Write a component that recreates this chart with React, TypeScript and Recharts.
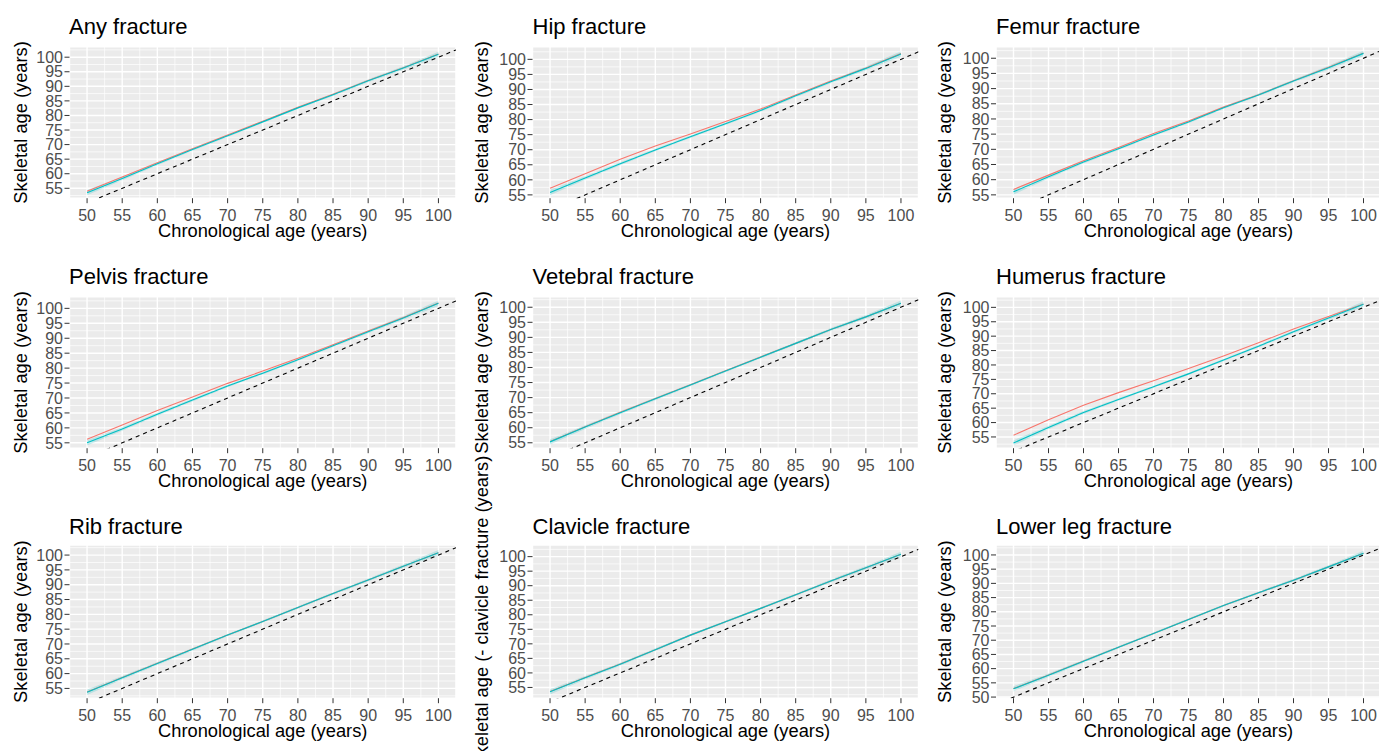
import React from 'react';
import { ComposedChart, Line, Area, XAxis, YAxis, CartesianGrid, ReferenceLine } from 'recharts';

// ---------- data ----------
const ages = [50, 55, 60, 65, 70, 75, 80, 85, 90, 95, 100];
const xTicks = [50, 55, 60, 65, 70, 75, 80, 85, 90, 95, 100];
const xMinor = [47.5, 52.5, 57.5, 62.5, 67.5, 72.5, 77.5, 82.5, 87.5, 92.5, 97.5, 102.5];
const yTicks = [55, 60, 65, 70, 75, 80, 85, 90, 95, 100];
const yTicksLowerLeg = [50, 55, 60, 65, 70, 75, 80, 85, 90, 95, 100];
const yMinor = [52.5, 57.5, 62.5, 67.5, 72.5, 77.5, 82.5, 87.5, 92.5, 97.5, 102.5];
const xDomain = [47.5, 102.5];
const identityAges = [47.5, 102.5];
const cyanBandHalf = [0.9, 0.6, 0.5, 0.45, 0.4, 0.4, 0.4, 0.45, 0.5, 0.6, 0.9];

const anyRed = [54.0, 58.9, 63.8, 68.6, 73.3, 78.0, 82.8, 87.3, 92.0, 96.4, 101.1];
const anyCyan = [53.5, 58.4, 63.4, 68.3, 73.0, 77.8, 82.6, 87.1, 91.9, 96.3, 101.0];
const anyYDomain = [51.6, 103.6];

const hipRed = [57.2, 62.0, 66.8, 71.2, 75.2, 79.4, 83.5, 88.2, 92.8, 97.1, 101.9];
const hipCyan = [55.8, 60.6, 65.3, 69.9, 74.3, 78.6, 83.0, 87.9, 92.6, 97.0, 101.8];
const hipYDomain = [53.9, 104.2];

const femurRed = [56.8, 61.5, 66.2, 70.6, 75.2, 79.3, 83.9, 88.0, 92.6, 97.0, 101.7];
const femurCyan = [56.0, 61.0, 65.8, 70.2, 74.7, 79.0, 83.7, 87.9, 92.5, 96.9, 101.6];
const femurYDomain = [53.9, 103.8];

const pelvisRed = [56.2, 61.0, 65.8, 70.3, 74.9, 79.0, 83.3, 87.8, 92.4, 96.9, 101.8];
const pelvisCyan = [55.0, 59.6, 64.6, 69.3, 74.0, 78.3, 82.8, 87.5, 92.2, 96.8, 101.7];
const pelvisYDomain = [53.2, 103.9];

const vertebralRed = [55.4, 60.3, 65.1, 69.7, 74.3, 78.9, 83.5, 88.0, 92.6, 96.8, 101.3];
const vertebralCyan = [55.3, 60.2, 65.0, 69.6, 74.2, 78.8, 83.4, 88.0, 92.6, 96.8, 101.3];
const vertebralYDomain = [53.2, 103.5];

const humerusRed = [55.6, 61.0, 66.0, 70.4, 74.5, 78.8, 83.1, 87.7, 92.5, 96.8, 101.2];
const humerusCyan = [52.9, 58.3, 63.5, 68.0, 72.4, 76.9, 81.7, 86.5, 91.5, 96.3, 101.1];
const humerusYDomain = [51.1, 103.7];

const ribRed = [53.8, 58.7, 63.5, 68.3, 73.0, 77.6, 82.3, 87.0, 91.6, 96.2, 100.8];
const ribCyan = [53.7, 58.6, 63.4, 68.2, 73.0, 77.6, 82.3, 87.0, 91.6, 96.2, 100.8];
const ribYDomain = [51.7, 103.4];

const clavicleRed = [53.6, 58.4, 63.1, 68.0, 73.0, 77.6, 82.2, 86.9, 91.6, 96.2, 100.8];
const clavicleCyan = [53.5, 58.3, 63.0, 68.0, 73.0, 77.6, 82.2, 86.9, 91.6, 96.2, 100.8];
const clavicleYDomain = [51.3, 104.0];

const lowerLegRed = [53.0, 57.8, 62.7, 67.5, 72.4, 77.3, 82.2, 86.7, 91.1, 95.8, 100.6];
const lowerLegCyan = [52.9, 57.7, 62.6, 67.5, 72.4, 77.3, 82.2, 86.7, 91.1, 95.8, 100.6];
const lowerLegYDomain = [49.6, 103.5];

const panelTitles = [
  'Any fracture', 'Hip fracture', 'Femur fracture',
  'Pelvis fracture', 'Vetebral fracture', 'Humerus fracture',
  'Rib fracture', 'Clavicle fracture', 'Lower leg fracture',
];
const yTitle = 'Skeletal age (years)';
const yTitleClavicle = 'Skeletal age (- clavicle fracture (years)';
const xTitle = 'Chronological age (years)';

// ---------- styling / layout ----------
const FONT = '"Liberation Sans", Arial, Helvetica, sans-serif';
const RED = '#F8766D';
const CYAN = '#00BFC4';
const colLeft = [0, 460, 920];
const colWidth = [460, 460, 461];
const plotLeft = [69.5, 72.5, 76];
const plotRight = [456, 458.5, 461];
const rowTop = [0, 250, 500];
const plotTop = [46.7, 46.7, 45];
const plotBottom = 198.2;
const CH = 250;
const TICK_FS = 16;

const panels = [
  { red: anyRed, cyan: anyCyan, yDomain: anyYDomain, yTicks },
  { red: hipRed, cyan: hipCyan, yDomain: hipYDomain, yTicks },
  { red: femurRed, cyan: femurCyan, yDomain: femurYDomain, yTicks },
  { red: pelvisRed, cyan: pelvisCyan, yDomain: pelvisYDomain, yTicks },
  { red: vertebralRed, cyan: vertebralCyan, yDomain: vertebralYDomain, yTicks },
  { red: humerusRed, cyan: humerusCyan, yDomain: humerusYDomain, yTicks },
  { red: ribRed, cyan: ribCyan, yDomain: ribYDomain, yTicks },
  { red: clavicleRed, cyan: clavicleCyan, yDomain: clavicleYDomain, yTicks },
  { red: lowerLegRed, cyan: lowerLegCyan, yDomain: lowerLegYDomain, yTicks: yTicksLowerLeg },
];

const identityData = identityAges.map((a) => ({ x: a, y: a }));

function Panel({ idx }: { idx: number }) {
  const p = panels[idx];
  const c = idx % 3;
  const r = Math.floor(idx / 3);
  const data = ages.map((a, i) => ({
    x: a,
    red: p.red[i],
    cyan: p.cyan[i],
    band: [p.cyan[i] - cyanBandHalf[i], p.cyan[i] + cyanBandHalf[i]],
  }));
  const w = colWidth[c];
  const tickStyle = { fontSize: TICK_FS, fill: '#4D4D4D', fontFamily: FONT };
  return (
    <div style={{ position: 'absolute', left: colLeft[c], top: rowTop[r], width: w, height: CH }}>
      <ComposedChart
        width={w}
        height={CH}
        data={data}
        margin={{ top: plotTop[r], right: w - plotRight[c], bottom: 0, left: 0 }}
      >
        <CartesianGrid stroke="#FFFFFF" strokeWidth={1.4} fill="#EBEBEB" fillOpacity={1} />
        {xMinor.map((v) => (
          <ReferenceLine key={'xm' + v} x={v} stroke="#FFFFFF" strokeWidth={0.7} />
        ))}
        {yMinor.map((v) => (
          <ReferenceLine key={'ym' + v} y={v} stroke="#FFFFFF" strokeWidth={0.7} />
        ))}
        <XAxis
          type="number"
          dataKey="x"
          domain={xDomain}
          ticks={xTicks}
          interval={0}
          allowDataOverflow
          axisLine={false}
          tickLine={{ stroke: '#333333', strokeWidth: 1 }}
          tickSize={5}
          tickMargin={6.5}
          height={CH - plotBottom}
          fontSize={TICK_FS}
          tick={tickStyle}
        />
        <YAxis
          type="number"
          domain={p.yDomain}
          ticks={p.yTicks}
          interval={0}
          allowDataOverflow
          axisLine={false}
          tickLine={{ stroke: '#333333', strokeWidth: 1 }}
          tickSize={5}
          tickMargin={1.5}
          width={plotLeft[c]}
          fontSize={TICK_FS}
          tick={tickStyle}
        />
        <Area
          type="linear"
          dataKey="band"
          stroke="none"
          fill={CYAN}
          fillOpacity={0.2}
          isAnimationActive={false}
          activeDot={false}
        />
        <Line type="linear" dataKey="red" stroke={RED} strokeWidth={1.1} dot={false} activeDot={false} isAnimationActive={false} />
        <Line type="linear" dataKey="cyan" stroke={CYAN} strokeWidth={1.1} dot={false} activeDot={false} isAnimationActive={false} />
        <Line
          type="linear"
          data={identityData}
          dataKey="y"
          stroke="#000000"
          strokeWidth={1.1}
          strokeDasharray="4 4"
          dot={false}
          activeDot={false}
          isAnimationActive={false}
        />
      </ComposedChart>
    </div>
  );
}

const titleX = [69, 532.5, 996];
const titleY = [34, 284, 533.5];
const xTitleY = [236.5, 486.5, 736.5];
const yTitleX = [27, 488.5, 951.5];

export default function App() {
  const texts: React.ReactNode[] = [];
  for (let i = 0; i < 9; i++) {
    const c = i % 3;
    const r = Math.floor(i / 3);
    const cx = colLeft[c] + (plotLeft[c] + plotRight[c]) / 2;
    const cy = rowTop[r] + (plotTop[r] + plotBottom) / 2 - (i === 7 ? 10 : 0);
    texts.push(
      <text key={'t' + i} x={titleX[c]} y={titleY[r]} fontSize={22} fill="#000" fontFamily={FONT}>
        {panelTitles[i]}
      </text>
    );
    texts.push(
      <text key={'x' + i} x={cx} y={xTitleY[r]} fontSize={18.3} fill="#000" fontFamily={FONT} textAnchor="middle">
        {xTitle}
      </text>
    );
    texts.push(
      <text
        key={'y' + i}
        x={yTitleX[c]}
        y={cy}
        fontSize={18.3}
        fill="#000"
        fontFamily={FONT}
        textAnchor="middle"
        transform={`rotate(-90 ${yTitleX[c]} ${cy})`}
      >
        {i === 7 ? yTitleClavicle : yTitle}
      </text>
    );
  }
  return (
    <div
      style={{
        position: 'absolute',
        left: 0,
        top: 0,
        width: 1379,
        height: 751,
        overflow: 'hidden',
        background: '#FFFFFF',
        fontFamily: FONT,
      }}
    >
      {panels.map((_, i) => (
        <Panel key={i} idx={i} />
      ))}
      <svg width={1379} height={751} style={{ position: 'absolute', left: 0, top: 0, pointerEvents: 'none' }}>
        {texts}
      </svg>
    </div>
  );
}
